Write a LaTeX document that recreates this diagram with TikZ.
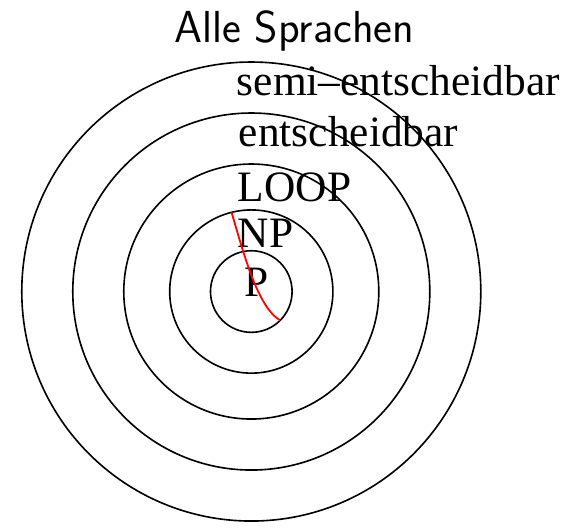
\documentclass[tikz,border=0pt]{standalone}
\usepackage{fontspec}
\setmainfont{Liberation Serif}
\usepackage{tikz}
\usetikzlibrary{positioning,calc}

\begin{document}
\begin{tikzpicture}[
  ring/.style={draw, line width=0.9pt},
  classLabel/.style={anchor=base west, inner sep=0pt,
                     font=\fontsize{24.2}{28}\selectfont},
  titleLabel/.style={anchor=base, inner sep=0pt,
                     font=\sffamily\fontsize{25}{30}\selectfont}
]
  \useasboundingbox (-4.927,-4.618) rectangle (6.327,5.716);
  \coordinate (o) at (0,0);
  \foreach \r/\n in {0.8/p, 1.6/np, 2.5/loop, 3.5/dec, 4.5/semi} {
    \draw[ring] (o) circle (\r);
  }

  % Klassen
  \node[titleLabel] (all) at (0.84,4.88) {Alle Sprachen};
  \node[classLabel] (semi) at (-0.29,3.85) {semi--entscheidbar};
  \node[classLabel] (dec) at (-0.25,2.84) {entscheidbar};
  \node[classLabel] (loop) at (-0.27,1.76) {LOOP};
  \node[classLabel] (np) at (-0.27,0.87) {NP};
  \node[classLabel] (p) at (-0.14,-0.10) {P};

  % Grenze
  \coordinate (top) at (104:1.6);
  \coordinate (bot) at (-45:0.8);
  \draw[red, line width=1pt] (top) .. controls (-0.15,0.75) and (0.12,-0.3) .. (bot);
\end{tikzpicture}
\end{document}
